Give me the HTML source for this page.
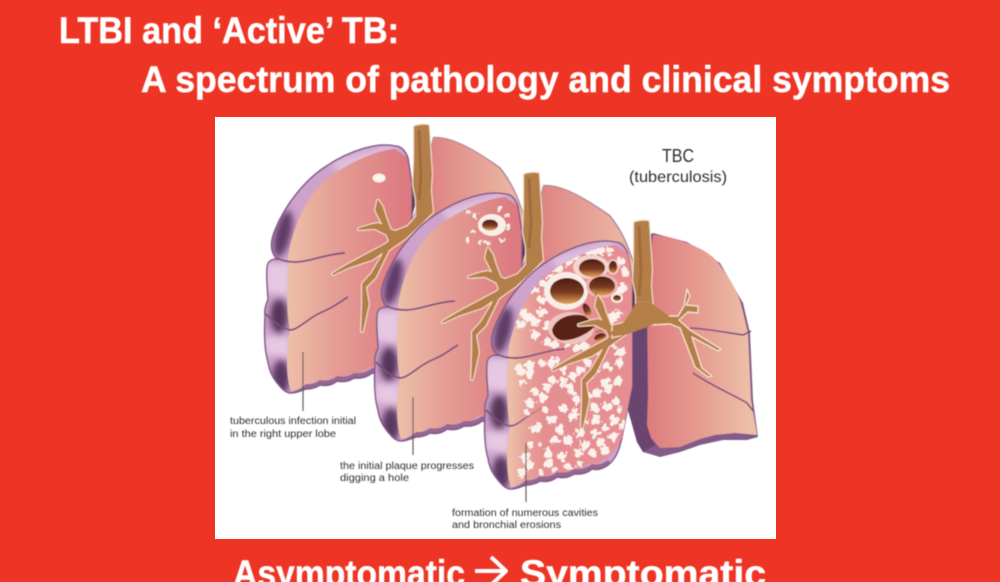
<!DOCTYPE html>
<html><head><meta charset="utf-8"><title>LTBI and Active TB</title>
<style>html,body{margin:0;padding:0;background:#EE3424}svg{display:block}text{font-family:"Liberation Sans",sans-serif}</style></head>
<body>
<svg xmlns="http://www.w3.org/2000/svg" width="1000" height="582" viewBox="0 0 1000 582">
<defs>
<filter id="b0" x="-5%" y="-5%" width="110%" height="110%"><feGaussianBlur stdDeviation="0.6"/></filter>
<filter id="t0" x="-5%" y="-20%" width="110%" height="140%"><feGaussianBlur stdDeviation="0.45"/></filter>
<filter id="b4" x="-80%" y="-80%" width="260%" height="260%"><feGaussianBlur stdDeviation="3.5"/></filter>
<filter id="lump" x="-5%" y="-5%" width="110%" height="110%"><feTurbulence type="fractalNoise" baseFrequency="0.22" numOctaves="2" seed="4" result="n"/><feDisplacementMap in="SourceGraphic" in2="n" scale="9" xChannelSelector="R" yChannelSelector="G"/></filter>
<linearGradient id="pk" gradientUnits="userSpaceOnUse" x1="288" y1="0" x2="405" y2="0"><stop offset="0" stop-color="#EDBFA8"/><stop offset=".4" stop-color="#E59E95"/><stop offset="1" stop-color="#DC7A80"/></linearGradient>
<linearGradient id="dz" gradientUnits="userSpaceOnUse" x1="292" y1="0" x2="325" y2="0"><stop offset="0" stop-color="#E58F92" stop-opacity="0"/><stop offset="1" stop-color="#E58F92"/></linearGradient>
<linearGradient id="pr" gradientUnits="userSpaceOnUse" x1="420" y1="0" x2="530" y2="0"><stop offset="0" stop-color="#DE7D80"/><stop offset=".45" stop-color="#E49C92"/><stop offset="1" stop-color="#EDBFA8"/></linearGradient>
<linearGradient id="pr3" gradientUnits="userSpaceOnUse" x1="650" y1="0" x2="750" y2="0"><stop offset="0" stop-color="#DE7D80"/><stop offset=".5" stop-color="#E59C90"/><stop offset="1" stop-color="#EDBFA8"/></linearGradient>
<linearGradient id="cv" x1="0" y1="0" x2="0" y2="1"><stop offset="0" stop-color="#4E1C14"/><stop offset=".55" stop-color="#7A3A22"/><stop offset="1" stop-color="#E5A45A"/></linearGradient>
<path id="lo" d="M408,158 C405,150 401,146 395,146 C378,142 350,150 325,167 C305,180 285,205 275,230 C270,242 270,252 277,259 C271,259 267,262 267,268 C266,280 268,292 268,300 C266,304 264,309 265,316 C264,335 265,352 268,362 C269,370 272,377 278,384 C282,389 286,393 291,393 C296,393 300,391 306,389 Q314,389 320,385 Q330,387 337,381 Q347,383 354,378 Q365,379 372,373 Q380,375 388,369 Q398,362 402,341 L412,290 L412,184 Z"/>
<path id="li" d="M408,158 L395,149 C375,150 345,165 325,180 C305,198 292,230 288,257 C289,262 288,266 288,272 C287,285 286,310 290,330 C288,340 287,350 287,360 C287,372 288,384 291,391 C296,390 300,388 304,385 Q312,385 318,380 Q328,382 335,376 Q345,378 352,373 Q363,374 370,367 Q378,369 386,362 Q396,356 402,341 L412,290 L412,184 Z"/>
<clipPath id="lc"><use href="#lo"/></clipPath>
<clipPath id="ic"><use href="#li"/></clipPath>
<g id="lungR">
  <path d="M433,137 C450,136 470,146 500,167 C515,185 523,207 530,237 L533,304 L538,337 L537,342 L527,344 L503,344 L480,349 L460,356 L440,361 L423,356 L417,346 L403,294 L410,230 Z" fill="#A8829F"/>
  <path d="M430,232 L400,230 L403,294 L417,346 L423,356 L440,361 L445,350 L432,340 L427,300 Z" fill="#6E4770"/>
  <path d="M433,138 C450,137 470,147 499,168 C514,186 522,208 529,238 L532,304 L536,335 L538,341 L527,340 L503,341 L480,344 L460,352 L440,352 L430,345 L427,330 L428,300 L425,232 Z" fill="url(#pr)"/>
</g>
<g id="lungL">
  <use href="#lo" fill="#CDA2CB"/>
  <g clip-path="url(#lc)">
    <path d="M264,264 L290,262 L290,296 L264,292 Z M264,336 L290,336 L290,358 L264,354 Z" fill="#E6C8E2" filter="url(#b4)"/>
    <path d="M330,162 L395,143 L395,150 L340,174 Z" fill="#E0BFDD" filter="url(#b4)"/>
    <ellipse cx="283" cy="234" rx="8" ry="24" fill="#5F3A66" filter="url(#b4)" transform="rotate(14 283 234)"/>
    <ellipse cx="279" cy="316" rx="9" ry="17" fill="#55345A" filter="url(#b4)"/>
    <ellipse cx="281" cy="377" rx="9" ry="17" fill="#5A3860" filter="url(#b4)"/>
    <use href="#li" fill="url(#pk)"/>
    <path d="M292,392 Q300,390 306,384 Q314,385 320,380 Q330,382 337,376 Q347,378 354,373 Q365,374 372,368 Q380,370 388,364 L395,372 L300,398 Z" fill="#96678F"/>
  </g>
  <use href="#lo" fill="none" stroke="#835A88" stroke-width="1.5"/>
  <path d="M345,253 C325,254 310,262 296,262 C288,262 282,261 277,258" fill="none" stroke="#7D4F7A" stroke-width="1.7"/>
  <path d="M348,297 C338,303 333,308 322,312 C308,318 298,330 290,330 C280,328 272,320 266,314" fill="none" stroke="#7D4F7A" stroke-width="1.7"/>
</g>
<path id="airp" d="M415,127 Q421,125 428,126 L431,174 L430,190 L432,212 L420,224 L405,238 L392,247 L388,250 L375,277 L365,287 L368,304 L362,331 L363,304 L363,284 L372,274 L382,257 L385,250 L372,259 L348,267 L333,274 L348,265 L387,244 L390,241 L387,234 L375,228 L359,229 L372,225 L378,224 L384,226 L376,210 L378,201 L382,207 L385,217 L390,230 L395,232 L408,227 L417,217 L417,200 L414,184 L415,160 Z"/>
<g id="air">
  <use href="#airp" fill="#F3DCC6" stroke="#F3DCC6" stroke-width="4" stroke-linejoin="round"/>
  <use href="#airp" fill="#B47E4A" stroke="#B47E4A" stroke-width="1.8" stroke-linejoin="round"/>
  <path d="M419,130 L421,175 L419,200" fill="none" stroke="#A06A3A" stroke-width="3"/>
</g>
</defs>
<rect width="1000" height="582" fill="#EE3424"/>
<rect x="215" y="117" width="561" height="422" fill="#FFFFFF"/>
<g filter="url(#b0)">
  <!-- lung 1 -->
  <use href="#lungR"/><use href="#lungL"/>
  <path d="M413,184 L417,200 L412,215 Z" fill="#5B3A5A"/>
  <use href="#air"/>
  <ellipse cx="379" cy="178" rx="6.5" ry="4.5" fill="#FBF3EC"/>
  <!-- lung 2 -->
  <g transform="translate(110,48)"><use href="#lungR"/><use href="#lungL"/><path d="M413,184 L417,200 L412,215 Z" fill="#5B3A5A"/></g>
  <ellipse cx="492" cy="225" rx="14" ry="11" fill="#F9EEE7"/>
  <ellipse cx="490" cy="225" rx="8" ry="5.5" fill="url(#cv)"/>
  <path d="M475,215h0M470,212h0M473,232h0M468,241h0M500,208h0M507,215h0M508,227h0M502,240h0M488,243h0M480,242h0" stroke="#F9EEE7" stroke-width="5" stroke-linecap="round" fill="none" filter="url(#lump)"/>
  <g transform="translate(110,48)"><use href="#air"/></g>
  <!-- lung 3 right lobe -->
  <path d="M653,233 L687,242 L720,263 L743,303 L750,333 L753,400 L758,437 L747,440 L723,440 L700,445 L680,452 L660,457 L643,452 L637,442 L625,400 L630,300 L640,240 Z" fill="#835A88"/>
  <path d="M650,300 L622,300 L624,395 L637,442 L643,452 L655,445 L648,425 L648,395 Z" fill="#6A4470"/>
  <path d="M653,235 C665,235 676,239 687,243 C700,248 712,254 719,264 C730,279 737,290 741,304 L748,333 L751,400 L757,435 L735,433 L715,435 L700,439 L680,447 L660,448 L651,438 L647,425 L648,395 L647,300 Z" fill="url(#pr3)"/>
  <path d="M690,328 C710,329 728,333 743,335 L751,331 M693,373 C712,386 732,394 747,403 L754,412" fill="none" stroke="#7D4F80" stroke-width="1.6"/>
  <!-- lung 3 left lobe -->
  <g transform="translate(220,96)"><use href="#lungL"/><path d="M413,184 L417,200 L412,215 Z" fill="#5B3A5A"/>
    <use href="#li" fill="url(#dz)"/>
    <path d="M345,253 C325,254 310,262 296,262 C292,262 288,262 285,261" fill="none" stroke="#7D4F7A" stroke-width="1.5"/>
  </g>
  <g transform="translate(220,96)" clip-path="url(#ic)"><g transform="translate(-220,-96)">
    <g filter="url(#lump)">
    <path d="M593,252h0M600,250h0M586,250h0M610,250h0M620,262h0M625,272h0M567,262h0M558,268h0M575,257h0M542,283h0M533,290h0M542,300h0M523,313h0M542,312h0M520,325h0M528,318h0M535,322h0M548,325h0M535,335h0M547,342h0M555,345h0M577,347h0M585,346h0M613,317h0M618,314h0M610,322h0M618,291h0M623,288h0M520,370h0M530,365h0M542,363h0M552,363h0M530,373h0M563,382h0M553,380h0M547,387h0M535,392h0M543,397h0M570,387h0M530,403h0M577,400h0M587,363h0M580,370h0M572,376h0M620,352h0M608,367h0M620,363h0M605,382h0M618,380h0M597,393h0M608,388h0M617,402h0M595,407h0M607,407h0M597,420h0M615,420h0M538,427h0M552,420h0M560,430h0M573,417h0M563,408h0M580,433h0M595,433h0M613,437h0M522,473h0M530,465h0M548,453h0M535,428h0M562,457h0M578,453h0M592,453h0M605,450h0M568,440h0M585,445h0M602,443h0M548,463h0M568,467h0M525,457h0M555,440h0" stroke="#FBF1EB" stroke-width="9" stroke-linecap="round" fill="none"/>
    <path d="M558,360h0M563,370h0M572,392h0M575,410h0M545,410h0M522,382h0M527,412h0M530,445h0M540,445h0M590,375h0M600,350h0M612,345h0M598,370h0M585,420h0M605,428h0M590,395h0M530,280h0M550,275h0M568,345h0M620,410h0M623,425h0M540,472h0M555,470h0M580,465h0" stroke="#FBF1EB" stroke-width="6" stroke-linecap="round" fill="none"/>
    </g>
  </g></g>
  <ellipse cx="566" cy="291" rx="22" ry="19" fill="#F9EEE7"/>
  <ellipse cx="591" cy="267" rx="18" ry="12" fill="#F4D4CC"/>
  <ellipse cx="602" cy="286" rx="16" ry="12" fill="#EFB7B2"/>
  <ellipse cx="571" cy="328" rx="23" ry="16" fill="#F0C4BE"/>
  <ellipse cx="567" cy="291" rx="17" ry="13" fill="url(#cv)"/>
  <ellipse cx="592" cy="268" rx="13" ry="9" fill="url(#cv)"/>
  <ellipse cx="602" cy="286" rx="13" ry="9.5" fill="url(#cv)"/>
  <path d="M552,330 C555,318 572,312 585,316 L596,325 C588,335 570,342 560,340 Q553,337 552,330 Z" fill="#5A2218"/>
  <ellipse cx="613" cy="267" rx="5" ry="7" fill="url(#cv)" stroke="#F4D4CC" stroke-width="1.5"/>
  <ellipse cx="617" cy="298" rx="5" ry="4" fill="url(#cv)" stroke="#F9EEE7" stroke-width="2"/>
  <ellipse cx="587" cy="310" rx="3.5" ry="7" fill="url(#cv)" transform="rotate(-25 587 310)"/>
  <ellipse cx="600" cy="337" rx="6" ry="3.5" fill="url(#cv)" transform="rotate(-20 600 337)"/>
  <path d="M593,290 C600,300 602,312 606,325 M596,332 L610,328" fill="none" stroke="#B47E4A" stroke-width="2"/>
  <g transform="translate(220,96)"><use href="#air"/></g>
  <path d="M650,303 L668,316 L678,316 L684,306 L687,289 L690,296 L686,305 L698,306 L698,313 L688,312 L679,320 L690,330 L721,349 L718,351 L692,337 L702,368 L712,376 L708,377 L695,367 L680,328 L670,324 L650,325 L623,335 L612,338 L612,325 L625,322 L637,303 Z" fill="#B47E4A" stroke="#F3DCC6" stroke-width="1.4" stroke-linejoin="round"/>
  <path d="M637,303 L650,303 L668,316 L650,325 L623,335 L610,334 L625,322 Z" fill="#B47E4A" stroke="#B47E4A" stroke-width="1.5"/>
  <!-- leader lines -->
  <path d="M303,352V411M413,397V455M526,443V502" stroke="#555" stroke-width="1.1" fill="none"/>
</g>
<g fill="#2E2E2E" filter="url(#t0)">
  <text x="230" y="424" font-size="10" textLength="126" lengthAdjust="spacingAndGlyphs">tuberculous infection initial</text>
  <text x="230" y="437" font-size="10" textLength="106" lengthAdjust="spacingAndGlyphs">in the right upper lobe</text>
  <text x="340" y="469" font-size="10" textLength="134" lengthAdjust="spacingAndGlyphs">the initial plaque progresses</text>
  <text x="340" y="481" font-size="10" textLength="69" lengthAdjust="spacingAndGlyphs">digging a hole</text>
  <text x="452" y="516" font-size="10" textLength="146" lengthAdjust="spacingAndGlyphs">formation of numerous cavities</text>
  <text x="452" y="528" font-size="10" textLength="109" lengthAdjust="spacingAndGlyphs">and bronchial erosions</text>
  <text x="662" y="162" font-size="18" textLength="32" lengthAdjust="spacingAndGlyphs">TBC</text>
  <text x="629" y="182" font-size="16" textLength="98" lengthAdjust="spacingAndGlyphs">(tuberculosis)</text>
</g>
<g fill="#FFFFFF" stroke="#FFFFFF" stroke-width="0.5" font-weight="700" filter="url(#t0)">
  <text x="59" y="43" font-size="37.5" textLength="340" lengthAdjust="spacingAndGlyphs">LTBI and ‘Active’ TB:</text>
  <text x="141" y="92" font-size="37.5" textLength="809" lengthAdjust="spacingAndGlyphs">A spectrum of pathology and clinical symptoms</text>
  <text x="233" y="586" font-size="37.5" textLength="232" lengthAdjust="spacingAndGlyphs">Asymptomatic</text>
  <text x="520" y="586" font-size="37.5" textLength="246" lengthAdjust="spacingAndGlyphs">Symptomatic</text>
</g>
<path d="M475,571H505M491,557L506,571L491,585" fill="none" stroke="#FFFFFF" stroke-width="4" filter="url(#t0)"/>
</svg>
</body></html>
